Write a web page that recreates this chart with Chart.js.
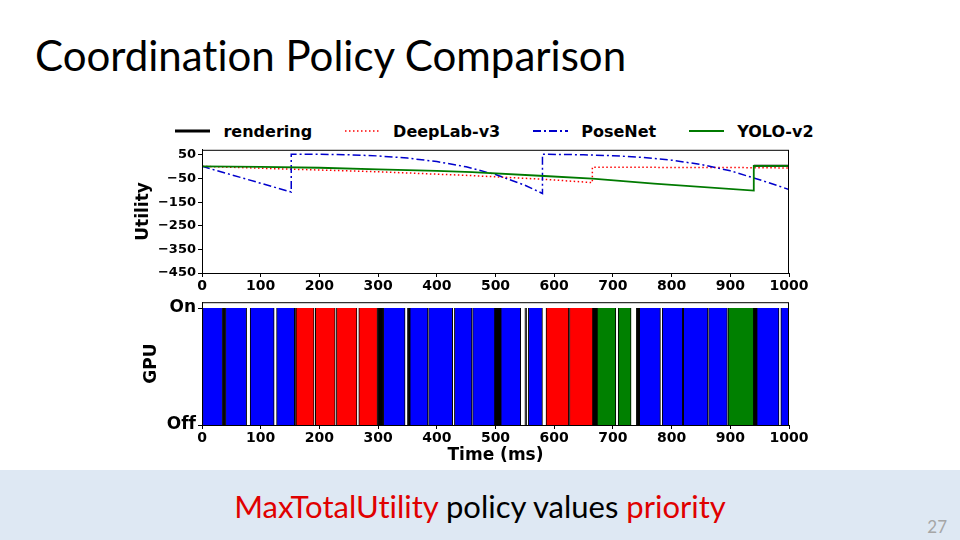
<!DOCTYPE html>
<html>
<head>
<meta charset="utf-8">
<script src="https://cdn.jsdelivr.net/npm/chart.js@4.4.0/dist/chart.umd.min.js"></script>
<style>
  html, body { margin: 0; padding: 0; background: #fff; }
  #slide { position: relative; width: 960px; height: 540px; overflow: hidden; background: #fff; font-variant-ligatures: none; }
  #title { position: absolute; left: 35px; top: 30px; font-family: Lato, "Open Sans", sans-serif; font-size: 42px; color: #000; white-space: nowrap; }
  #legend { position: absolute; left: 130px; width: 729px; top: 121px; height: 20px; display: flex; justify-content: center; align-items: center;
            font-family: "DejaVu Sans", sans-serif; font-weight: bold; font-size: 16px; color: #000; }
  #legend .item { display: flex; align-items: center; margin-right: 33px; }
  #legend .item:last-child { margin-right: 0; }
  #legend svg { margin-right: 13px; }
  canvas { position: absolute; }
  #utilChart { left: 130px; top: 140px; }
  #gpuChart { left: 130px; top: 290px; }
  #band { position: absolute; left: 0; top: 470px; width: 960px; height: 70px; background: #DEE8F3; }
  #caption { position: absolute; left: 0; width: 960px; top: 487px; text-align: center; font-family: Lato, "Open Sans", sans-serif; font-size: 31px; color: #000; white-space: nowrap; }
  #caption .hl { color: #E00000; }
  #page { position: absolute; left: 900px; width: 47px; top: 516px; text-align: right; font-family: Lato, sans-serif; font-size: 17px; color: #A6A6A6; }
</style>
</head>
<body>
<div id="slide">
  <div id="title">Coordination Policy Comparison</div>
  <div id="legend"></div>
  <canvas id="utilChart" width="680" height="155"></canvas>
  <canvas id="gpuChart" width="680" height="180"></canvas>
  <div id="band"></div>
  <div id="caption"><span class="hl">MaxTotalUtility</span> policy values <span class="hl">priority</span></div>
  <div id="page">27</div>
</div>
<script>
// utility over time (ms)
const renderingT = [940, 1000];
const renderingU = [4, 4];
const deeplabT = [0, 150, 300, 456, 583, 665, 665, 900, 1000];
const deeplabU = [2, -10, -21, -37, -53, -67, -2, -3, -5];
const posenetT = [0, 152, 152, 200, 250, 300, 350, 400, 450, 500, 550, 580,
                  580, 650, 700, 750, 800, 850, 900, 950, 1000];
const posenetU = [2, -107, 53, 53, 51, 46, 37, 22, 0, -33, -78, -113,
                  53, 51, 47, 40, 28, 10, -17, -55, -96];
const yoloT = [0, 100, 200, 300, 400, 460, 583, 665, 770, 940, 940, 1000];
const yoloU = [2, 0, -4, -11, -17, -23, -39, -50, -71, -101, 4, 4];

const utilTicks = [50, -50, -150, -250, -350, -450];
const timeTicks = [0, 100, 200, 300, 400, 500, 600, 700, 800, 900, 1000];

// GPU schedule: which job holds the GPU from start to end (ms)
const gpuStart = [0, 35, 40, 82, 127, 158, 160, 193, 229, 267, 299, 309, 350, 354, 386, 430, 461, 499, 509, 550,
                  556, 586, 626, 666, 673, 709, 740, 745, 784, 820, 863, 896, 940, 945, 986];
const gpuEnd   = [35, 40, 76, 123, 158, 160, 191, 227, 264, 299, 309, 346, 354, 385, 427, 460, 499, 509, 543, 553,
                  580, 625, 666, 673, 705, 731, 745, 781, 819, 862, 895, 940, 945, 983, 1000];
const gpuJob   = ["PoseNet", "rendering", "PoseNet", "PoseNet", "PoseNet", "rendering", "DeepLab-v3", "DeepLab-v3",
                  "DeepLab-v3", "DeepLab-v3", "rendering", "PoseNet", "rendering", "PoseNet", "PoseNet", "PoseNet",
                  "PoseNet", "rendering", "PoseNet", "rendering", "PoseNet", "DeepLab-v3", "DeepLab-v3", "rendering",
                  "YOLO-v2", "YOLO-v2", "rendering", "PoseNet", "PoseNet", "PoseNet", "PoseNet", "YOLO-v2",
                  "rendering", "PoseNet", "PoseNet"];

const jobColor = { "rendering": "#000000", "DeepLab-v3": "#FF0000", "PoseNet": "#0000FF", "YOLO-v2": "#008000" };

const toPoints = (ts, us) => ts.map((t, i) => ({ x: t, y: us[i] }));

const tickFont = { family: "DejaVu Sans", weight: "bold", size: 14 };
const titleFont = { family: "DejaVu Sans", weight: "bold", size: 17 };

const frame = {
  id: "frame",
  afterDraw(chart) {
    const { ctx, chartArea: a } = chart;
    ctx.save();
    ctx.strokeStyle = "#000";
    ctx.lineWidth = 1;
    ctx.strokeRect(a.left + 0.5, a.top + 0.5, a.right - a.left - 1, a.bottom - a.top);
    ctx.restore();
  }
};

const utilDatasets = [
  { label: "rendering", data: toPoints(renderingT, renderingU), borderColor: "#000000", borderWidth: 2, legendWidth: 3, order: 4 },
  { label: "DeepLab-v3", data: toPoints(deeplabT, deeplabU), borderColor: "#FF0000", borderWidth: 1.5, borderDash: [1.5, 2.5], legendWidth: 1.5, order: 3 },
  { label: "PoseNet", data: toPoints(posenetT, posenetU), borderColor: "#0000CC", borderWidth: 1.5, borderDash: [8, 3, 2, 3], legendWidth: 2, order: 2 },
  { label: "YOLO-v2", data: toPoints(yoloT, yoloU), borderColor: "#007A00", borderWidth: 1.8, legendWidth: 2, order: 1 }
];

// legend built from the datasets
const legendEl = document.getElementById("legend");
utilDatasets.forEach(ds => {
  const dash = ds.borderDash ? ds.borderDash.join(",") : "none";
  legendEl.insertAdjacentHTML("beforeend",
    `<span class="item"><svg width="35" height="6"><line x1="0" y1="3" x2="35" y2="3" stroke="${ds.borderColor}" stroke-width="${ds.legendWidth}" stroke-dasharray="${dash}"/></svg><span>${ds.label}</span></span>`);
});

const timeAxis = (height, title) => ({
  type: "linear", min: 0, max: 1000,
  afterBuildTicks: s => { s.ticks = timeTicks.map(v => ({ value: v })); },
  afterFit: s => { s.height = height; },
  ticks: { color: "#000", font: tickFont, padding: 1, maxRotation: 0, callback: v => String(v) },
  grid: { drawOnChartArea: false, offset: false, color: "#000", tickLength: 4 },
  border: { color: "#000" },
  title: title
    ? { display: true, text: title, color: "#000", font: titleFont, padding: { top: 0, bottom: 4 } }
    : { display: false }
});

new Chart(document.getElementById("utilChart"), {
  type: "line",
  data: { datasets: utilDatasets },
  options: {
    responsive: false,
    animation: false,
    layout: { padding: { top: 7, right: 21, bottom: 0, left: 0 } },
    plugins: { legend: { display: false }, tooltip: { enabled: false } },
    elements: { point: { radius: 0 }, line: { tension: 0 } },
    scales: {
      x: timeAxis(22, null),
      y: {
        type: "linear", min: -450, max: 72,
        afterBuildTicks: s => { s.ticks = utilTicks.map(v => ({ value: v })); },
        afterFit: s => { s.width = 72; },
        ticks: { color: "#000", font: { family: "DejaVu Sans", weight: "bold", size: 13 }, padding: 2,
                 callback: v => String(v).replace("-", "\u2212") },
        grid: { drawOnChartArea: false, color: "#000", tickLength: 4 },
        border: { color: "#000" },
        title: { display: true, text: "Utility", color: "#000", font: titleFont, padding: { top: 3, bottom: 0 } }
      }
    }
  },
  plugins: [frame]
});

new Chart(document.getElementById("gpuChart"), {
  type: "bar",
  data: {
    datasets: [{
      label: "GPU",
      data: gpuStart.map((s, i) => ({ x: [s, gpuEnd[i]], y: 0.5 })),
      backgroundColor: gpuJob.map(j => jobColor[j]),
      borderColor: "#000",
      borderWidth: { left: 1, right: 1, top: 0, bottom: 0 },
      borderSkipped: false,
      categoryPercentage: 1,
      barPercentage: 1
    }]
  },
  options: {
    indexAxis: "y",
    responsive: false,
    animation: false,
    layout: { padding: { top: 9, right: 21, bottom: 0, left: 0 } },
    plugins: { legend: { display: false }, tooltip: { enabled: false } },
    scales: {
      x: timeAxis(45, "Time (ms)"),
      y: {
        type: "linear", min: 0, max: 1.05, offset: false,
        afterBuildTicks: s => { s.ticks = [{ value: 0 }, { value: 1 }]; },
        afterFit: s => { s.width = 72; },
        ticks: { color: "#000", font: { family: "DejaVu Sans", weight: "bold", size: 17 }, padding: 2,
                 callback: v => (v === 1 ? "On" : "Off") },
        grid: { drawOnChartArea: false, offset: false, color: "#000", tickLength: 4 },
        border: { color: "#000" },
        title: { display: true, text: "GPU", color: "#000", font: { family: "DejaVu Sans", weight: "bold", size: 17 }, padding: { top: 11, bottom: 0 } }
      }
    }
  },
  plugins: [frame]
});
</script>
</body>
</html>
